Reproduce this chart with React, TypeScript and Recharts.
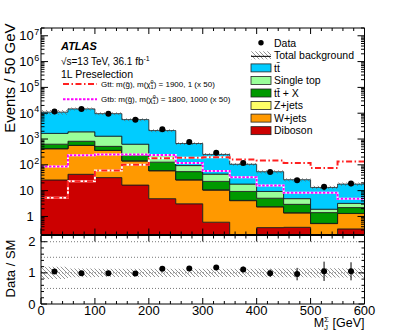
import React from 'react';
import { ComposedChart, Area, Line, Scatter, XAxis, YAxis, ErrorBar, ReferenceLine } from 'recharts';

const FONT = '"Liberation Sans", Arial, Helvetica, sans-serif';

// ---- binning ----
const binEdges = [0, 50, 100, 150, 200, 250, 300, 350, 400, 450, 500, 550, 600];
const binCenters = [25, 75, 125, 175, 225, 275, 325, 375, 425, 475, 525, 575];

// ---- background components (events / 50 GeV) ----
const ttbar = [9350, 12800, 8310, 5020, 1890, 576, 209, 87, 44.7, 21.6, 11.4, 14.7];
const singleTop = [1020, 1080, 770, 400, 106, 39, 21, 8.7, 4.2, 1.95, 0.5, 1.0];
const ttX = [205, 250, 156, 86, 67, 28, 12, 5.1, 2.7, 1.55, 0.87, 0.9];
const zJets = [5, 7, 5, 2.5, 1.1, 0.5, 0.2, 0.1, 0.03, 0.02, 0.01, 0.01];
const wJets = [395, 520, 327, 125, 54, 23, 10, 4.0, 2.0, 1.0, 0.43, 0.97];
const diboson = [26, 43, 32, 16.5, 4.9, 3.1, 0.6, 0.1, 0.37, 0.38, 0.1, 0.33];
const bkgRelUnc = [0.2, 0.14, 0.13, 0.13, 0.13, 0.13, 0.13, 0.13, 0.14, 0.14, 0.15, 0.15];

// ---- signals (x 50) ----
const gttSignal = [5.3, 23, 60, 100, 180, 187, 195, 160, 147, 117, 76, 135];
const gtbSignal = [86, 233, 250, 250, 240, 118, 58, 33, 16, 8.3, 8.3, 4.8];

// ---- data ----
const dataCounts = [11600, 14500, 9450, 5520, 2380, 770, 292, 117, 53, 25.5, 14, 19];
const dataErr = [108, 120, 97, 74, 49, 28, 17, 11, 7.3, 5, 3.7, 4.4];
const ratioVals = [1.04, 0.99, 0.99, 0.98, 1.13, 1.14, 1.17, 1.11, 0.99, 0.96, 1.05, 1.05];
const ratioErr = [0.01, 0.01, 0.012, 0.015, 0.025, 0.04, 0.065, 0.09, 0.12, 0.2, 0.31, 0.29];

// ---- ticks ----
const xTicks = [0, 20, 40, 60, 80, 100, 120, 140, 160, 180, 200, 220, 240, 260, 280, 300, 320, 340, 360, 380, 400, 420, 440, 460, 480, 500, 520, 540, 560, 580, 600];
const xLabelTicks = [0, 100, 200, 300, 400, 500, 600];
const yDecades = [0.1, 1, 10, 100, 1000, 1e4, 1e5, 1e6, 1e7];
const yMultipliers = [1, 2, 3, 4, 5, 6, 7, 8, 9];
const yMainTicks = yDecades.flatMap((d) => yMultipliers.map((m) => m * d)).filter((v) => v >= 0.2 - 1e-9 && v <= 2e7 + 1);
const yMainLabels = [
  { v: 1, base: '1', exp: '' },
  { v: 10, base: '10', exp: '' },
  { v: 100, base: '10', exp: '2' },
  { v: 1000, base: '10', exp: '3' },
  { v: 1e4, base: '10', exp: '4' },
  { v: 1e5, base: '10', exp: '5' },
  { v: 1e6, base: '10', exp: '6' },
  { v: 1e7, base: '10', exp: '7' },
];
const yRatioTicks = [0, 0.2, 0.4, 0.6, 0.8, 1, 1.2, 1.4, 1.6, 1.8, 2];
const yRatioLabels = [0, 1, 2];
const ratioGridLines = [0.5, 1, 1.5, 2];

// ---- styles ----
const layers = [
  { key: 'diboson', vals: diboson, color: '#cc0000' },
  { key: 'wjets', vals: wJets, color: '#ff9900' },
  { key: 'zjets', vals: zJets, color: '#ffff66' },
  { key: 'ttx', vals: ttX, color: '#009900' },
  { key: 'singletop', vals: singleTop, color: '#99ff99' },
  { key: 'ttbar', vals: ttbar, color: '#00ccff' },
];
const FLOOR = 0.01;

const mainTable = binEdges.map((x, i) => {
  const b = Math.min(i, binCenters.length - 1);
  const row: any = { x };
  let cum = 0;
  layers.forEach((l) => {
    const lo = cum === 0 ? FLOOR : cum;
    cum += l.vals[b];
    row[l.key] = [lo, cum];
  });
  row.unc = [cum * (1 - bkgRelUnc[b]), cum * (1 + bkgRelUnc[b])];
  row.gtt = gttSignal[b];
  row.gtb = gtbSignal[b];
  return row;
});

const ratioTable = binEdges.map((x, i) => {
  const b = Math.min(i, binCenters.length - 1);
  return { x, band: [1 - bkgRelUnc[b], 1 + bkgRelUnc[b]] };
});

const dataPts = binCenters.map((x, i) => ({ x, y: dataCounts[i], err: dataErr[i] }));
const ratioPts = binCenters.map((x, i) => ({ x, y: ratioVals[i], err: ratioErr[i] }));

const dotShape = (p: any) => <circle cx={p.cx} cy={p.cy} r={3} fill="#000" />;

function makeXTick(edge: 'bottom' | 'top', withLabels: boolean) {
  return (p: any) => {
    const v = p.payload.value;
    const isMajor = xLabelTicks.includes(v);
    const len = isMajor ? 6 : 3;
    const dir = edge === 'bottom' ? -1 : 1;
    return (
      <g>
        <line x1={p.x} y1={p.y} x2={p.x} y2={p.y + dir * len} stroke="#000" strokeWidth={1} />
        {withLabels && isMajor && (
          <text x={p.x} y={p.y + 10.5} textAnchor="middle" fontSize={13} fontFamily={FONT} fill="#000">
            {v}
          </text>
        )}
      </g>
    );
  };
}

function makeYMainTick(side: 'left' | 'right') {
  return (p: any) => {
    const v = p.payload.value;
    const lbl = yMainLabels.find((l) => Math.abs(v / l.v - 1) < 1e-6);
    const len = lbl ? 7 : 3.5;
    const dir = side === 'left' ? 1 : -1;
    return (
      <g>
        <line x1={p.x} y1={p.y} x2={p.x + dir * len} y2={p.y} stroke="#000" strokeWidth={1} />
        {side === 'left' && lbl && (
          <g>
            <text x={p.x - 7.2} y={p.y + 4.6} textAnchor="end" fontSize={13} fontFamily={FONT} fill="#000">
              {lbl.base}
            </text>
            {lbl.exp && (
              <text x={p.x - 6.8} y={p.y - 1} textAnchor="start" fontSize={9} fontFamily={FONT} fill="#000">
                {lbl.exp}
              </text>
            )}
          </g>
        )}
      </g>
    );
  };
}

function makeYRatioTick(side: 'left' | 'right') {
  return (p: any) => {
    const v = p.payload.value;
    const isMajor = yRatioLabels.some((l) => Math.abs(v - l) < 1e-6);
    const len = isMajor ? 6 : 3;
    const dir = side === 'left' ? 1 : -1;
    return (
      <g>
        <line x1={p.x} y1={p.y} x2={p.x + dir * len} y2={p.y} stroke="#000" strokeWidth={1} />
        {side === 'left' && isMajor && (
          <text x={p.x - 5.5} y={p.y + 4.6} textAnchor="end" fontSize={13} fontFamily={FONT} fill="#000">
            {Math.round(v)}
          </text>
        )}
      </g>
    );
  };
}

const TTBAR = 't' + 't\u0304';

const legendRows: { kind: string; color?: string; label: string }[] = [
  { kind: 'data', label: 'Data' },
  { kind: 'hatch', label: 'Total background' },
  { kind: 'box', color: '#00ccff', label: TTBAR },
  { kind: 'box', color: '#99ff99', label: 'Single top' },
  { kind: 'box', color: '#009900', label: TTBAR + ' + X' },
  { kind: 'box', color: '#ffff66', label: 'Z+jets' },
  { kind: 'box', color: '#ff9900', label: 'W+jets' },
  { kind: 'box', color: '#cc0000', label: 'Diboson' },
];

const axisCommon = {
  interval: 0 as const,
  tickSize: 0,
  tickMargin: 0,
  tickLine: false,
  axisLine: { stroke: '#000', strokeWidth: 1 },
  allowDataOverflow: true,
};

export default function App() {
  return (
    <div style={{ position: 'absolute', left: 0, top: 0, width: 406, height: 334, background: '#fff', overflow: 'hidden' }}>
      <svg width={0} height={0} style={{ position: 'absolute' }}>
        <defs>
          <pattern id="hatchPat" patternUnits="userSpaceOnUse" width={4} height={4}>
            <path d="M-1,-1 L5,5 M-1,3 L1,5 M3,-1 L5,1" stroke="#666" strokeWidth={0.7} />
          </pattern>
        </defs>
      </svg>

      {/* main panel */}
      <div style={{ position: 'absolute', left: 0, top: 0 }}>
        <ComposedChart width={406} height={240} data={mainTable} margin={{ top: 27, right: 40.5, bottom: 4.5, left: 40 }}>
          <XAxis dataKey="x" type="number" domain={[0, 600]} ticks={xTicks} height={1} tick={makeXTick('bottom', false)} {...axisCommon} />
          <XAxis xAxisId="top" orientation="top" dataKey="x" type="number" domain={[0, 600]} ticks={xTicks} height={1} tick={makeXTick('top', false)} {...axisCommon} />
          <YAxis type="number" scale="log" domain={[0.2, 2e7]} ticks={yMainTicks} width={1} tick={makeYMainTick('left')} {...axisCommon} />
          <YAxis yAxisId="right" orientation="right" type="number" scale="log" domain={[0.2, 2e7]} ticks={yMainTicks} width={1} tick={makeYMainTick('right')} {...axisCommon} />
          {layers.map((l) => (
            <Area key={l.key} dataKey={l.key} type="stepAfter" fill={l.color} fillOpacity={1} stroke="#1a1a1a" strokeWidth={0.8} dot={false} activeDot={false} isAnimationActive={false} />
          ))}
          <Area dataKey="unc" type="stepAfter" fill="url(#hatchPat)" fillOpacity={1} stroke="none" dot={false} activeDot={false} isAnimationActive={false} />
          <Line dataKey="gtt" type="stepAfter" stroke="#ffffff" strokeWidth={2} dot={false} activeDot={false} isAnimationActive={false} />
          <Line dataKey="gtt" type="stepAfter" stroke="#ff2020" strokeWidth={2} strokeDasharray="6 2.5 1.5 2.5" dot={false} activeDot={false} isAnimationActive={false} />
          <Line dataKey="gtb" type="stepAfter" stroke="#ffffff" strokeWidth={2} dot={false} activeDot={false} isAnimationActive={false} />
          <Line dataKey="gtb" type="stepAfter" stroke="#ff00ff" strokeWidth={2} strokeDasharray="2.5 1.5" dot={false} activeDot={false} isAnimationActive={false} />
          <Scatter data={dataPts} dataKey="y" shape={dotShape} isAnimationActive={false}>
            <ErrorBar dataKey="err" direction="y" width={0} stroke="#000" strokeWidth={1} />
          </Scatter>
        </ComposedChart>
      </div>

      {/* ratio panel */}
      <div style={{ position: 'absolute', left: 0, top: 230 }}>
        <ComposedChart width={406} height={104} data={ratioTable} margin={{ top: 4.5, right: 40.5, bottom: 29, left: 40 }}>
          <XAxis dataKey="x" type="number" domain={[0, 600]} ticks={xTicks} height={1} tick={makeXTick('bottom', true)} {...axisCommon} />
          <XAxis xAxisId="top" orientation="top" dataKey="x" type="number" domain={[0, 600]} ticks={xTicks} height={1} tick={makeXTick('top', false)} {...axisCommon} />
          <YAxis type="number" domain={[0, 2.2]} ticks={yRatioTicks} width={1} tick={makeYRatioTick('left')} {...axisCommon} />
          <YAxis yAxisId="right" orientation="right" type="number" domain={[0, 2.2]} ticks={yRatioTicks} width={1} tick={makeYRatioTick('right')} {...axisCommon} />
          {ratioGridLines.map((g) => (
            <ReferenceLine key={g} y={g} stroke="#777" strokeWidth={1} strokeDasharray="1 2" />
          ))}
          <Area dataKey="band" type="stepAfter" fill="url(#hatchPat)" fillOpacity={1} stroke="none" dot={false} activeDot={false} isAnimationActive={false} />
          <Scatter data={ratioPts} dataKey="y" shape={dotShape} isAnimationActive={false}>
            <ErrorBar dataKey="err" direction="y" width={0} stroke="#000" strokeWidth={1} />
          </Scatter>
        </ComposedChart>
      </div>

      {/* annotations */}
      <svg width={406} height={334} style={{ position: 'absolute', left: 0, top: 0, pointerEvents: 'none' }} fontFamily={FONT}>
        <text transform="translate(15,23.5) rotate(-90)" textAnchor="end" fontSize={15} fill="#000">Events / 50 GeV</text>
        <text transform="translate(15,268.5) rotate(-90)" textAnchor="middle" fontSize={13} fill="#000">Data / SM</text>
        <text x={364.5} y={327} textAnchor="end" fontSize={12.5} fill="#000">
          M<tspan fontSize={8} dy={3}>J</tspan>
          <tspan fontSize={8} dx={-4} dy={-8}>Σ</tspan>
          <tspan dy={5}> [GeV]</tspan>
        </text>

        <text x={61} y={49.5} fontSize={11} fontWeight="bold" fontStyle="italic" fill="#000">ATLAS</text>
        <text x={61} y={65} fontSize={10} fill="#000">
          √s=13 TeV, 36.1 fb<tspan fontSize={7} dy={-4}>-1</tspan>
        </text>
        <text x={61} y={77.5} fontSize={10.5} fill="#000">1L Preselection</text>

        <line x1={63} y1={84} x2={97} y2={84} stroke="#ff2020" strokeWidth={2} strokeDasharray="6 2.5 1.5 2.5" />
        <text x={101} y={87} fontSize={8} fill="#000">
          Gtt: m(g̃), m(χ̃<tspan fontSize={5.5} dy={-3}>0</tspan>
          <tspan fontSize={5.5} dx={-3} dy={5}>1</tspan>
          <tspan dy={-2}>) = 1900, 1 (x 50)</tspan>
        </text>
        <line x1={63} y1={99.3} x2={97} y2={99.3} stroke="#ff00ff" strokeWidth={2} strokeDasharray="2.5 1.5" />
        <text x={101} y={102.3} fontSize={8} fill="#000">
          Gtb: m(g̃), m(χ̃<tspan fontSize={5.5} dy={-3}>0</tspan>
          <tspan fontSize={5.5} dx={-3} dy={5}>1</tspan>
          <tspan dy={-2}>) = 1800, 1000 (x 50)</tspan>
        </text>

        {legendRows.map((r, i) => {
          const yc = 42.8 + 12.55 * i;
          return (
            <g key={i}>
              {r.kind === 'data' && <circle cx={261} cy={yc} r={2.7} fill="#000" />}
              {r.kind === 'hatch' && (
                <g>
                  <rect x={251} y={yc - 4} width={20} height={8} fill="url(#hatchPat)" />
                  <line x1={251} y1={yc + 1} x2={271} y2={yc + 1} stroke="#000" strokeWidth={1} />
                </g>
              )}
              {r.kind === 'box' && <rect x={251} y={yc - 4} width={20} height={8} fill={r.color} stroke="#222" strokeWidth={0.8} />}
              <text x={274} y={yc + 3.8} fontSize={10.5} fill="#000">{r.label}</text>
            </g>
          );
        })}
      </svg>
    </div>
  );
}
